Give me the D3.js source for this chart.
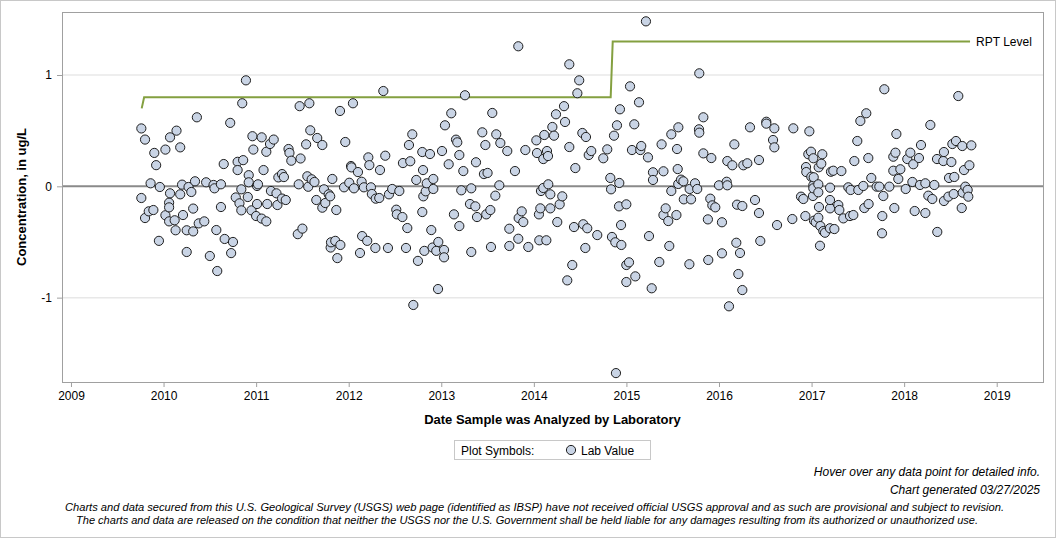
<!DOCTYPE html>
<html>

<head>
    <meta charset="utf-8">
    <title>Lab Value Chart</title>
    <script src="https://d3js.org/d3.v7.min.js"></script>
    <style>
        body {
            margin: 0;
            background: #fff;
        }

        text {
            font-family: "Liberation Sans", Arial, sans-serif;
            fill: #000;
        }
    </style>
</head>

<body>
    <svg width="1056" height="538"></svg>

    <script>
        // year ticks on the x axis
        const yearTicks = [2009, 2010, 2011, 2012, 2013, 2014, 2015, 2016, 2017, 2018, 2019];
        const valueTicks = [-1, 0, 1];

        // reporting level step line (decimal year, ug/L)
        const rptYears = [2009.764, 2009.79, 2014.83, 2014.852, 2018.712];
        const rptValues = [0.70, 0.80, 0.80, 1.30, 1.30];

        // lab values: [decimal year, concentration]
        const labSamples = [
            [2009.76, 0.52], [2009.76, -0.105], [2009.80, 0.42], [2009.80, -0.285], [2009.84, -0.225], [2009.86, 0.027],
            [2009.89, -0.213], [2009.90, 0.30], [2009.92, 0.19], [2009.95, -0.49], [2009.96, -0.006],
            [2010.02, 0.33], [2010.02, -0.26], [2010.06, -0.147], [2010.06, -0.189], [2010.06, -0.315], [2010.07, 0.44],
            [2010.07, -0.063], [2010.12, -0.305], [2010.13, -0.395], [2010.14, 0.50], [2010.18, 0.35], [2010.18, -0.072],
            [2010.20, 0.015], [2010.21, -0.258], [2010.25, -0.395], [2010.25, -0.59], [2010.27, -0.006], [2010.30, -0.051],
            [2010.32, -0.20], [2010.32, -0.405], [2010.34, 0.045], [2010.36, 0.62], [2010.38, -0.333], [2010.44, -0.315],
            [2010.46, 0.036], [2010.50, -0.626], [2010.54, 0.012], [2010.55, -0.018], [2010.57, -0.393], [2010.58, -0.761],
            [2010.62, 0.018], [2010.62, -0.186], [2010.65, 0.20], [2010.66, -0.473], [2010.72, 0.57], [2010.73, -0.60],
            [2010.75, -0.50], [2010.78, -0.10], [2010.80, 0.22], [2010.80, 0.146], [2010.82, -0.153], [2010.84, -0.027],
            [2010.84, -0.216], [2010.85, 0.746], [2010.86, 0.235], [2010.89, 0.952], [2010.91, -0.096], [2010.92, 0.10],
            [2010.92, 0.036], [2010.95, -0.216], [2010.96, 0.45], [2010.97, 0.33],
            [2011.00, -0.267], [2011.01, 0.003], [2011.01, -0.159], [2011.02, 0.018], [2011.06, 0.44], [2011.06, -0.29],
            [2011.08, 0.146], [2011.11, 0.31], [2011.11, -0.315], [2011.12, -0.159], [2011.15, 0.38], [2011.16, -0.042],
            [2011.19, 0.42], [2011.22, -0.063], [2011.23, -0.168], [2011.24, 0.08], [2011.28, 0.11], [2011.28, -0.11],
            [2011.30, 0.083], [2011.32, -0.123], [2011.35, 0.335], [2011.36, 0.30], [2011.38, 0.23], [2011.45, -0.43],
            [2011.46, 0.018], [2011.47, 0.72], [2011.48, 0.25], [2011.50, -0.38], [2011.54, 0.377], [2011.553, 0.09],
            [2011.563, -0.004], [2011.575, 0.746], [2011.585, 0.503], [2011.60, 0.063], [2011.63, 0.039], [2011.65, -0.123],
            [2011.66, 0.434], [2011.715, 0.371], [2011.715, -0.192], [2011.733, -0.027], [2011.747, -0.15], [2011.784, -0.072],
            [2011.80, -0.09], [2011.805, -0.55], [2011.809, -0.503], [2011.823, 0.066], [2011.855, -0.49], [2011.866, -0.213],
            [2011.877, -0.645], [2011.906, 0.677], [2011.91, -0.527], [2011.95, -0.009], [2011.963, 0.398],
            [2012.006, 0.032], [2012.025, 0.182], [2012.03, 0.17], [2012.046, 0.746], [2012.057, -0.018], [2012.10, 0.128],
            [2012.122, -0.599], [2012.14, 0.041], [2012.145, -0.447], [2012.164, -0.009], [2012.20, -0.49], [2012.212, 0.26],
            [2012.223, 0.19], [2012.24, -0.009], [2012.25, -0.069], [2012.288, -0.554], [2012.292, -0.111], [2012.33, -0.105],
            [2012.338, 0.146], [2012.374, 0.856], [2012.395, 0.275], [2012.424, -0.554], [2012.435, -0.072], [2012.47, -0.024],
            [2012.514, -0.21], [2012.52, -0.252], [2012.547, -0.042], [2012.58, -0.276], [2012.586, 0.209], [2012.619, -0.554],
            [2012.633, -0.375], [2012.651, 0.371], [2012.665, 0.225], [2012.687, 0.467], [2012.698, -1.066], [2012.73, 0.057],
            [2012.748, -0.67], [2012.795, 0.308], [2012.795, -0.231], [2012.803, 0.146], [2012.806, -0.09], [2012.817, -0.58],
            [2012.832, -0.045], [2012.843, 0.027], [2012.878, 0.29], [2012.892, -0.393], [2012.906, -0.55], [2012.914, 0.066],
            [2012.914, -0.024], [2012.946, -0.58], [2012.965, -0.923], [2012.968, -0.50],
            [2013.008, 0.317], [2013.03, -0.572], [2013.03, -0.638], [2013.04, 0.548], [2013.08, 0.198], [2013.108, 0.656],
            [2013.137, -0.252], [2013.159, 0.419], [2013.173, 0.395], [2013.195, 0.281], [2013.195, -0.357], [2013.216, -0.036],
            [2013.238, 0.137], [2013.256, 0.818], [2013.31, -0.159], [2013.324, -0.018], [2013.324, -0.59], [2013.368, -0.18],
            [2013.375, 0.216], [2013.386, -0.276], [2013.443, 0.485], [2013.461, 0.11], [2013.476, 0.371], [2013.486, -0.252],
            [2013.50, 0.12], [2013.53, -0.213], [2013.537, -0.545], [2013.551, 0.659], [2013.584, -0.084], [2013.594, 0.467],
            [2013.627, 0.009], [2013.638, 0.389], [2013.713, 0.317], [2013.735, -0.381], [2013.735, -0.536], [2013.796, 0.137],
            [2013.832, 1.258], [2013.832, -0.471], [2013.836, -0.285], [2013.869, -0.225], [2013.886, -0.321], [2013.908, 0.326],
            [2013.94, -0.545],
            [2014.027, 0.413], [2014.034, 0.299], [2014.055, -0.252], [2014.059, -0.485], [2014.07, -0.198], [2014.077, -0.042],
            [2014.102, 0.245], [2014.102, -0.015], [2014.113, 0.461], [2014.135, -0.485], [2014.142, 0.317], [2014.153, 0.272],
            [2014.156, 0.018], [2014.178, -0.072], [2014.178, -0.198], [2014.20, 0.533], [2014.218, 0.455], [2014.239, 0.647],
            [2014.253, -0.321], [2014.279, -0.162], [2014.307, -0.09], [2014.326, 0.72], [2014.337, 0.578], [2014.361, -0.845],
            [2014.383, 1.096], [2014.383, 0.353], [2014.415, -0.707], [2014.434, -0.366], [2014.448, 0.164], [2014.47, 0.836],
            [2014.49, 0.952], [2014.524, 0.479], [2014.534, -0.341], [2014.556, -0.554], [2014.563, 0.443], [2014.577, -0.377],
            [2014.593, 0.281], [2014.62, 0.317], [2014.685, -0.438], [2014.75, 0.252], [2014.793, 0.332], [2014.826, 0.075],
            [2014.834, -0.027], [2014.844, -0.455], [2014.866, 0.455], [2014.88, -0.503], [2014.887, -1.678], [2014.898, 0.548],
            [2014.92, -0.18], [2014.923, 0.03], [2014.93, 0.692], [2014.942, -0.348], [2014.945, -0.527], [2014.999, -0.162],
            [2014.999, -0.707], [2014.999, -0.86],
            [2015.028, -0.683], [2015.039, 0.898], [2015.06, 0.326], [2015.085, 0.557], [2015.096, -0.809], [2015.136, 0.755],
            [2015.15, 0.326], [2015.16, 0.362], [2015.211, 1.482], [2015.233, 0.26], [2015.244, -0.447], [2015.273, -0.916],
            [2015.287, 0.126], [2015.287, 0.057], [2015.355, -0.68], [2015.38, 0.377], [2015.40, 0.135], [2015.40, -0.258],
            [2015.424, -0.198], [2015.452, -0.312], [2015.463, -0.536], [2015.485, 0.467], [2015.485, -0.042], [2015.54, -0.258],
            [2015.547, 0.335], [2015.554, 0.155], [2015.56, 0.021], [2015.561, 0.53], [2015.59, 0.06], [2015.615, 0.045],
            [2015.62, -0.117], [2015.68, -0.70], [2015.683, -0.024], [2015.698, -0.117], [2015.741, 0.027], [2015.765, -0.024],
            [2015.784, 0.512], [2015.787, 0.482], [2015.787, 1.015], [2015.831, 0.62], [2015.831, 0.296], [2015.88, -0.297],
            [2015.884, -0.662], [2015.906, -0.111], [2015.917, 0.254], [2015.928, -0.171], [2015.96, -0.189],
            [2016.0, 0.009], [2016.032, -0.323], [2016.032, -0.602], [2016.083, 0.041], [2016.09, 0.227], [2016.09, 0.009],
            [2016.108, -1.078], [2016.144, 0.189], [2016.166, 0.377], [2016.187, -0.507], [2016.195, -0.165], [2016.209, -0.788],
            [2016.227, -0.599], [2016.252, -0.177], [2016.252, -0.932], [2016.263, 0.189], [2016.306, 0.207], [2016.335, 0.53],
            [2016.389, -0.123], [2016.432, 0.236], [2016.432, -0.24], [2016.446, -0.491], [2016.511, 0.58], [2016.511, 0.563],
            [2016.584, 0.416], [2016.598, 0.521], [2016.598, 0.35], [2016.627, -0.348], [2016.792, -0.294], [2016.803, 0.521],
            [2016.886, -0.093], [2016.911, -0.114], [2016.933, -0.267], [2016.94, 0.173], [2016.943, 0.128], [2016.965, 0.288],
            [2016.976, 0.494], [2016.994, 0.311], [2016.997, 0.086],
            [2017.015, -0.087], [2017.019, 0.252], [2017.019, 0.009], [2017.019, -0.018], [2017.023, 0.081], [2017.026, -0.309],
            [2017.045, -0.323], [2017.073, 0.018], [2017.073, -0.054], [2017.073, -0.282], [2017.077, 0.171], [2017.08, -0.186],
            [2017.091, -0.534], [2017.095, -0.357], [2017.105, 0.203], [2017.116, 0.288], [2017.127, -0.402], [2017.145, -0.417],
            [2017.199, -0.377], [2017.2, -0.198], [2017.2, -0.012], [2017.199, -0.123], [2017.21, 0.131], [2017.235, 0.14],
            [2017.246, -0.384], [2017.289, -0.168], [2017.3, -0.213], [2017.322, 0.137], [2017.343, -0.288], [2017.397, -0.009],
            [2017.415, -0.267], [2017.422, -0.033], [2017.451, -0.258], [2017.462, 0.227], [2017.494, 0.407], [2017.505, -0.033],
            [2017.527, 0.587], [2017.559, 0.003], [2017.57, -0.195], [2017.591, 0.656], [2017.613, 0.254], [2017.616, -0.159],
            [2017.645, 0.075], [2017.703, -0.003], [2017.732, -0.003], [2017.761, -0.422], [2017.764, -0.267], [2017.775, -0.087],
            [2017.786, 0.872], [2017.84, -0.003], [2017.883, 0.266], [2017.883, 0.14], [2017.894, -0.195], [2017.906, 0.302],
            [2017.916, 0.47], [2017.937, 0.066], [2017.959, 0.153],
            [2018.017, -0.024], [2018.034, 0.245], [2018.067, 0.302], [2018.089, 0.039], [2018.099, 0.198], [2018.114, -0.222],
            [2018.16, 0.254], [2018.171, 0.012], [2018.182, 0.371], [2018.229, 0.027], [2018.229, -0.24], [2018.261, -0.084],
            [2018.283, 0.551], [2018.304, -0.114], [2018.326, 0.012], [2018.355, 0.245], [2018.358, -0.41], [2018.423, 0.227],
            [2018.43, 0.308], [2018.43, -0.132], [2018.478, -0.093], [2018.485, 0.075], [2018.51, 0.218], [2018.521, 0.38],
            [2018.535, -0.069], [2018.542, 0.084], [2018.56, 0.407], [2018.585, 0.811], [2018.622, -0.195], [2018.628, 0.362],
            [2018.633, -0.057], [2018.647, 0.146], [2018.661, -0.003], [2018.686, -0.033], [2018.693, -0.093], [2018.705, 0.189],
            [2018.726, 0.368]
        ];

        const svg = d3.select("svg");

        const plot = { left: 62, right: 1043, top: 12, bottom: 382 };

        const x = d3.scaleLinear()
            .domain([2008.903, 2019.5])
            .range([plot.left, plot.right]);

        const y = d3.scaleLinear()
            .domain([-1.758, 1.566])
            .range([plot.bottom, plot.top]);

        // outer border of the image
        svg.append("rect")
            .attr("x", 0.5).attr("y", 0.5)
            .attr("width", 1055).attr("height", 537)
            .attr("fill", "#fff")
            .attr("stroke", "#c8c8c8");

        // grid lines at the ticks, zero line darker
        svg.append("g")
            .selectAll("line")
            .data(valueTicks)
            .join("line")
            .attr("x1", plot.left).attr("x2", plot.right)
            .attr("y1", d => y(d)).attr("y2", d => y(d))
            .attr("stroke", d => d === 0 ? "#8a8a8a" : "#e8e8e8")
            .attr("stroke-width", d => d === 0 ? 2 : 1.5);

        // axes (plain hyphen for negatives, like the original)
        const xAxis = d3.axisBottom(x)
            .tickValues(yearTicks)
            .tickFormat(d => String(d))
            .tickSize(5)
            .tickSizeOuter(0);

        const yAxis = d3.axisLeft(y)
            .tickValues(valueTicks)
            .tickFormat(d => String(d))
            .tickSize(5)
            .tickSizeOuter(0);

        const gx = svg.append("g")
            .attr("transform", `translate(0,${plot.bottom})`)
            .call(xAxis);

        const gy = svg.append("g")
            .attr("transform", `translate(${plot.left},0)`)
            .call(yAxis);

        [gx, gy].forEach(g => {
            g.select(".domain").remove();
            g.selectAll(".tick line").attr("stroke", "#a0a0a0");
            g.selectAll(".tick text")
                .attr("font-size", 12)
                .attr("font-family", "'Liberation Sans', Arial, sans-serif")
                .attr("fill", "#000");
        });
        gx.selectAll(".tick text").attr("y", 9);
        gy.selectAll(".tick text").attr("x", -10);

        // plot frame
        svg.append("rect")
            .attr("x", plot.left + 0.5).attr("y", plot.top + 0.5)
            .attr("width", plot.right - plot.left).attr("height", plot.bottom - plot.top)
            .attr("fill", "none")
            .attr("stroke", "#a0a0a0");

        // RPT level step line
        const rptLine = d3.line()
            .x((d, i) => x(rptYears[i]))
            .y(d => y(d));

        svg.append("path")
            .datum(rptValues)
            .attr("d", rptLine)
            .attr("fill", "none")
            .attr("stroke", "#84a040")
            .attr("stroke-width", 2);

        svg.append("text")
            .attr("x", x(rptYears[rptYears.length - 1]) + 6)
            .attr("y", y(rptValues[rptValues.length - 1]))
            .attr("dy", "0.35em")
            .attr("font-size", 12)
            .text("RPT Level");

        // lab value points
        svg.append("g")
            .selectAll("circle")
            .data(labSamples)
            .join("circle")
            .attr("cx", d => x(d[0]))
            .attr("cy", d => y(d[1]))
            .attr("r", 4.6)
            .attr("fill", "#c9d4e5")
            .attr("stroke", "#1e1e1e")
            .attr("stroke-width", 1);

        // axis titles
        svg.append("text")
            .attr("x", (plot.left + plot.right) / 2)
            .attr("y", 424)
            .attr("text-anchor", "middle")
            .attr("font-size", 13)
            .attr("font-weight", "bold")
            .text("Date Sample was Analyzed by Laboratory");

        svg.append("text")
            .attr("transform", `translate(26,${(plot.top + plot.bottom) / 2}) rotate(-90)`)
            .attr("text-anchor", "middle")
            .attr("font-size", 13)
            .attr("font-weight", "bold")
            .text("Concentration, in ug/L");

        // legend
        const legend = svg.append("g");
        legend.append("rect")
            .attr("x", 454.5).attr("y", 440.5)
            .attr("width", 196).attr("height", 19)
            .attr("fill", "#fff")
            .attr("stroke", "#c8c8c8");
        legend.append("text")
            .attr("x", 461).attr("y", 454.5)
            .attr("font-size", 12)
            .text("Plot Symbols:");
        legend.append("circle")
            .attr("cx", 571).attr("cy", 450)
            .attr("r", 4.6)
            .attr("fill", "#c9d4e5")
            .attr("stroke", "#1e1e1e");
        legend.append("text")
            .attr("x", 581).attr("y", 454.5)
            .attr("font-size", 12)
            .text("Lab Value");

        // footnotes
        const notes = svg.append("g")
            .attr("font-style", "italic");
        notes.append("text")
            .attr("x", 1040).attr("y", 476)
            .attr("text-anchor", "end")
            .attr("font-size", 12)
            .text("Hover over any data point for detailed info.");
        notes.append("text")
            .attr("x", 1040).attr("y", 494)
            .attr("text-anchor", "end")
            .attr("font-size", 12)
            .text("Chart generated 03/27/2025");
        notes.append("text")
            .attr("x", 65).attr("y", 511)
            .attr("font-size", 11)
            .attr("textLength", 939)
            .attr("lengthAdjust", "spacingAndGlyphs")
            .text("Charts and data secured from this U.S. Geological Survey (USGS) web page (identified as IBSP) have not received official USGS approval and as such are provisional and subject to revision.");
        notes.append("text")
            .attr("x", 76).attr("y", 524)
            .attr("font-size", 11)
            .attr("textLength", 902)
            .attr("lengthAdjust", "spacingAndGlyphs")
            .text("The charts and data are released on the condition that neither the USGS nor the U.S. Government shall be held liable for any damages resulting from its authorized or unauthorized use.");
    </script>

</body>

</html>
